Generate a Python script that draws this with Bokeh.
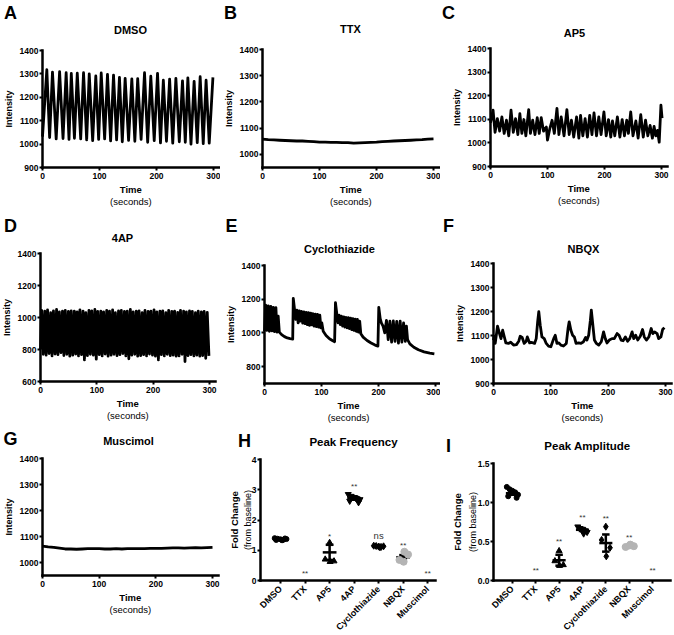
import math
from bokeh.plotting import figure
from bokeh.models import Range1d, FixedTicker, Label, PrintfTickFormatter
from bokeh.layouts import row, column
from bokeh.embed import file_html
from bokeh.resources import INLINE
from bokeh.core.properties import value

FONT = "Liberation Sans"

# ------------------------------------------------------------------ data
time_ticks = [0, 100, 200, 300]

dmso_trace = [(0, 1032), (7.6, 1318), (12.5, 1028), (17.5, 1308), (24, 1022), (30, 1310), (36, 1024),
              (41.5, 1305), (46.5, 1020), (50.5, 1302), (56, 1025), (61, 1303), (67, 1022), (72, 1305),
              (77.5, 1018), (82, 1300), (88, 1015), (93.5, 1291), (98.5, 1020), (103, 1304), (109, 1022),
              (114, 1298), (119.5, 1014), (124.6, 1295), (130, 1018), (135, 1285), (140, 1010), (145, 1281),
              (151, 1016), (156.7, 1279), (162, 1012), (167, 1280), (173, 1020), (179, 1305), (184.5, 1008),
              (190, 1290), (196, 1015), (201.8, 1302), (207, 1005), (212, 1273), (217.5, 1012), (223, 1278),
              (228.5, 1004), (234, 1281), (240, 1010), (245.6, 1270), (250.5, 1008), (255, 1283), (260.5, 1000),
              (266, 1268), (271.5, 1006), (276.6, 1288), (282, 1002), (287, 1273), (292.5, 1004), (299, 1285)]

ttx_trace = [(0, 1058), (10, 1056), (20, 1055), (30, 1054), (40, 1053), (50, 1052), (60, 1051), (70, 1051),
             (80, 1050), (90, 1049), (100, 1047), (110, 1047), (120, 1046), (130, 1046), (140, 1045),
             (150, 1045), (160, 1043), (170, 1044), (180, 1045), (190, 1046), (200, 1047), (210, 1049),
             (220, 1050), (230, 1051), (240, 1052), (250, 1053), (260, 1054), (270, 1055), (280, 1056),
             (290, 1058), (300, 1059)]

ap5_trace = [(0, 1085), (4.5, 1139), (8, 1045), (12, 1103), (16, 1050), (20, 1110), (24, 1040), (28, 1096),
             (32, 1030), (36, 1139), (40, 1045), (44, 1103), (48, 1035), (51.5, 1124), (55, 1040), (58.6, 1099),
             (62, 1030), (67, 1141), (70, 1040), (74, 1096), (78, 1035), (82, 1107), (85.5, 1040), (89, 1107),
             (93, 1050), (98, 1067), (100, 1012), (104, 1060), (108, 1096), (112, 1040), (116.6, 1146),
             (120, 1035), (124, 1110), (129, 1030), (134, 1141), (138, 1035), (142, 1096), (146, 1025),
             (151, 1110), (155, 1020), (158, 1117), (162, 1030), (166, 1103), (170, 1025), (174, 1117),
             (178, 1035), (181.6, 1127), (186, 1030), (190, 1110), (194, 1035), (199, 1131), (203, 1030),
             (207, 1099), (211, 1025), (214, 1093), (218, 1030), (222.6, 1110), (227, 1025), (231, 1099),
             (235, 1030), (239, 1096), (242, 1040), (246, 1131), (250, 1030), (255, 1093), (259, 1020),
             (263.6, 1120), (268, 1025), (272, 1096), (276, 1030), (280, 1074), (284, 1020), (287, 1070),
             (290, 1030), (293, 1053), (296, 1003), (299, 1160), (301, 1105)]

fourap_trace = [(0, 800), (2, 1045), (4.8, 770), (7.5, 1040), (10, 765), (12.5, 1048), (15.3, 775), (18, 1030),
                (20.5, 760), (23, 1042), (25.8, 772), (28.5, 1050), (31, 768), (33.5, 1035), (36.3, 780),
                (39, 1040), (41.5, 762), (44, 1045), (46.8, 770), (49.5, 1038), (52, 758), (54.5, 1042),
                (57.3, 765), (60, 1040), (62.5, 772), (65, 1035), (67.5, 760), (70, 1048), (72.8, 768),
                (75.5, 1040), (78, 735), (80.5, 1030), (83.3, 762), (86, 1045), (88.5, 770), (91, 1042),
                (93.8, 765), (96.5, 1050), (99, 740), (101.5, 1038), (104.3, 768), (107, 1040), (109.5, 760),
                (112, 1035), (114.8, 772), (117.5, 1045), (120, 758), (122.5, 1040), (125.3, 765), (128, 1048),
                (130.5, 770), (133, 1030), (135.8, 762), (138.5, 1042), (141, 768), (143.5, 1045), (146.3, 775),
                (149, 1038), (151.5, 760), (154, 1040), (156.8, 742), (159.5, 1050), (162, 765), (164.5, 1035),
                (167.3, 770), (170, 1040), (172.5, 758), (175, 1042), (177.8, 762), (180.5, 1030), (183, 768),
                (185.5, 1045), (188.3, 760), (191, 1038), (193.5, 772), (196, 1040), (198.8, 765), (201.5, 1048),
                (204, 758), (206.5, 1035), (209.3, 735), (212, 1040), (214.5, 768), (217, 1042), (219.8, 760),
                (222.5, 1030), (225, 770), (227.5, 1045), (230.3, 762), (233, 1038), (235.5, 765), (238, 1040),
                (240.8, 758), (243.5, 1032), (246, 760), (248.5, 1045), (251.3, 770), (254, 1040), (256.5, 725),
                (259, 1035), (261.8, 762), (264.5, 1042), (267, 768), (269.5, 1038), (272.3, 760), (275, 1030),
                (277.5, 765), (280, 1040), (282.8, 758), (285.5, 1035), (288, 762), (290.5, 1038), (293.3, 745),
                (296, 1032), (299, 760)]

cyclo_trace = [(0, 1010), (2, 1165), (4, 1015), (6.5, 1160), (8.5, 1010), (11, 1158), (13, 1012), (15.5, 1152),
               (17.5, 1008), (20, 1150), (22, 1005), (24, 1100), (26, 1005), (30, 990), (35, 978), (40, 970),
               (45, 966), (49.5, 964), (50.5, 1205), (53, 1130), (55, 1080), (57, 1135), (59, 1060), (61, 1130),
               (63, 1070), (65, 1128), (67, 1058), (69, 1125), (71, 1055), (73, 1122), (75, 1050), (77, 1120),
               (79, 1045), (81, 1118), (83, 1048), (85, 1115), (87, 1040), (89, 1112), (91, 1038), (93, 1110),
               (95, 1035), (97, 1105), (99, 1030), (100.5, 1060), (103, 1010), (108, 985), (114, 965), (119, 955),
               (123, 948), (124.5, 1180), (127, 1110), (129, 1060), (131, 1105), (133, 1050), (135, 1100),
               (137, 1040), (139, 1095), (141, 1035), (143, 1092), (145, 1030), (147, 1090), (149, 1025),
               (151, 1088), (153, 1020), (155, 1085), (157, 1015), (159, 1082), (161, 1010), (163, 1080),
               (165, 1005), (167, 1070), (169, 995), (173, 975), (180, 955), (187, 940), (194, 928), (199, 922),
               (200.5, 1152), (203, 1085), (205, 1060), (208, 1040), (211, 1000), (214, 1075), (217, 960),
               (220, 1070), (223, 945), (226, 1072), (229, 950), (232, 1068), (235, 940), (238, 1070), (241, 945),
               (244, 1060), (247, 950), (249, 1040), (251, 960), (255, 935), (262, 915), (270, 900), (280, 888),
               (290, 880), (298, 876)]

nbqx_trace = [(0, 1080), (1, 1097), (3, 1067), (7, 1139), (10.5, 1108), (13, 1087), (16, 1122), (18.6, 1097),
              (21.5, 1069), (26, 1067), (30, 1072), (35, 1060), (40, 1062), (44, 1076), (46.6, 1097), (50, 1092),
              (53.6, 1067), (57, 1076), (59, 1094), (63, 1069), (67, 1071), (71.6, 1067), (74.5, 1087),
              (77, 1157), (79, 1199), (81.5, 1143), (84.5, 1094), (88.5, 1087), (92, 1067), (96, 1056),
              (100, 1053), (105, 1087), (107.7, 1101), (110.7, 1067), (114, 1069), (117.6, 1060), (122, 1056),
              (127, 1067), (130, 1129), (132, 1157), (135, 1122), (138, 1101), (141, 1094), (144, 1067),
              (148.5, 1069), (152.6, 1067), (157, 1074), (160.7, 1092), (163, 1081), (166, 1101), (169, 1164),
              (170.6, 1206), (173, 1150), (176, 1081), (179.5, 1067), (183.5, 1060), (188, 1074), (192, 1115),
              (195, 1087), (198, 1069), (202, 1081), (206.7, 1087), (210.7, 1087), (215.5, 1108), (219, 1101),
              (222.5, 1081), (226, 1078), (230, 1094), (234, 1076), (237.6, 1087), (241.7, 1115), (244.6, 1087),
              (248, 1101), (251.6, 1081), (256, 1097), (260, 1125), (263, 1094), (266.7, 1081), (271, 1094),
              (275, 1129), (278, 1108), (281, 1115), (285.4, 1108), (288, 1087), (292, 1094), (295, 1125),
              (298, 1133)]

muscimol_trace = [(0, 1063), (10, 1060), (20, 1058), (30, 1055), (40, 1052), (50, 1052), (60, 1051), (70, 1052),
                  (80, 1053), (90, 1053), (100, 1053), (110, 1052), (120, 1052), (130, 1053), (140, 1052),
                  (150, 1053), (160, 1053), (170, 1053), (180, 1053), (190, 1054), (200, 1054), (210, 1054),
                  (220, 1055), (230, 1056), (240, 1056), (250, 1055), (260, 1056), (270, 1057), (280, 1056),
                  (290, 1057), (300, 1058)]

categories = ["DMSO", "TTX", "AP5", "4AP", "Cyclothiazide", "NBQX", "Muscimol"]

# Peak frequency (fold change)
freq_dmso = [1.40, 1.38, 1.36, 1.35, 1.37, 1.34, 1.39, 1.33]
freq_ap5 = [1.25, 0.70, 0.64, 0.62]
freq_4ap = [2.85, 2.79, 2.75, 2.71, 2.68, 2.63, 2.58, 2.73]
freq_cyclo = [1.15, 1.14, 1.12, 1.11, 1.13, 1.10]
freq_nbqx = [0.95, 0.86, 0.68, 0.62]
freq_mean = [1.36, 0, 0.93, 2.72, 1.13, 0.77, 0]
freq_sem = [0.015, 0, 0.25, 0.05, 0.01, 0.07, 0]
freq_marks = ["", "**", "*", "**", "ns", "**", "**"]
freq_mark_y = [0, 0.24, 1.45, 3.1, 1.5, 1.16, 0.24]

# Peak amplitude (fold change)
amp_dmso = [1.20, 1.17, 1.15, 1.13, 1.10, 1.08, 1.06, 1.12]
amp_ap5 = [0.38, 0.25, 0.20, 0.19]
amp_4ap = [0.69, 0.67, 0.66, 0.64, 0.62, 0.60]
amp_cyclo = [0.69, 0.52, 0.42, 0.31]
amp_nbqx = [0.46, 0.44, 0.43, 0.45]
amp_mean = [1.12, 0, 0.26, 0.65, 0.48, 0.44, 0]
amp_sem = [0.02, 0, 0.07, 0.015, 0.11, 0.01, 0]
amp_marks = ["", "**", "**", "**", "**", "**", "**"]
amp_mark_y = [0, 0.13, 0.50, 0.81, 0.79, 0.55, 0.13]

# ------------------------------------------------------------------ layout helpers
JIT8 = [-0.24, -0.12, 0.0, 0.12, 0.24, -0.18, 0.18, 0.06]
JIT6 = [-0.2, -0.1, 0.0, 0.1, 0.2, 0.05]
JIT4 = [0.0, -0.18, 0.18, 0.02]
JIT4G = [0.05, 0.2, -0.15, 0.02]


class Panel:
    """A figure whose frame fills the canvas; the axes sit at fixed data locations."""

    def __init__(self, X0, Y0, W, H, FL, FT, FW, FH, xlo, xhi, ylo, yhi, xticks, yticks, tick_size="8.5px"):
        self.X0, self.Y0, self.W, self.H = X0, Y0, W, H
        fl, ft = FL - X0, FT - Y0
        self.kx = FW / (xhi - xlo)
        self.ky = FH / (yhi - ylo)
        self.x0 = xlo - fl / self.kx
        self.y1 = yhi + ft / self.ky
        xr = Range1d(self.x0, xhi + (W - fl - FW) / self.kx)
        yr = Range1d(ylo - (H - ft - FH) / self.ky, self.y1)
        p = figure(width=W, height=H, x_range=xr, y_range=yr, output_backend="svg",
                   toolbar_location=None, min_border=0)
        p.min_border_left = p.min_border_right = p.min_border_top = p.min_border_bottom = 0
        p.grid.visible = False
        p.outline_line_color = None
        p.xaxis.ticker = FixedTicker(ticks=xticks)
        p.yaxis.ticker = FixedTicker(ticks=yticks)
        p.xaxis.fixed_location = ylo
        p.yaxis.fixed_location = xlo
        p.xaxis.bounds = (xlo, xhi)
        p.yaxis.bounds = (ylo, yhi)
        for ax in p.axis:
            ax.axis_line_width = 2.5
            ax.axis_line_color = "black"
            ax.axis_line_cap = "square"
            ax.major_tick_line_width = 2
            ax.major_tick_out = 3
            ax.major_tick_in = 0
            ax.minor_tick_line_color = None
            ax.major_label_text_font = FONT
            ax.major_label_text_font_style = "bold"
            ax.major_label_text_font_size = tick_size
            ax.major_label_text_color = "black"
            ax.major_label_standoff = 2
        p.yaxis.major_label_standoff = 1
        self.p = p
        self.FL, self.FT, self.FW, self.FH = FL, FT, FW, FH

    def dx(self, ax):
        return self.x0 + (ax - self.X0) / self.kx

    def dy(self, ay):
        return self.y1 - (ay - self.Y0) / self.ky

    def lab(self, text, ax, ay, size, style="bold", angle=0.0, color="black"):
        self.p.add_layout(Label(x=self.dx(ax), y=self.dy(ay), text=text, text_font=FONT,
                                text_font_size=f"{size}px", text_font_style=style,
                                text_align="center", text_baseline="middle", angle=angle,
                                text_color=color))


def trace_panel(X0, Y0, W, H, FL, FT, FH, px300, trace, yr, yticks, letter, lxy, title, txy, time_x=None):
    FW = px300 * 310 / 300
    pn = Panel(X0, Y0, W, H, FL, FT, FW, FH, 0, 310, yr[0], yr[1], time_ticks, yticks)
    ts = [a for a, _ in trace]
    vs = [b for _, b in trace]
    pn.p.line(ts, vs, line_color="black", line_width=2.8, line_join="round")
    FB = FT + FH
    pn.lab(letter, lxy[0], lxy[1], 18)
    pn.lab(title, txy[0], txy[1], 11)
    cx = time_x if time_x is not None else FL + FW / 2
    pn.lab("Time", cx, FB + 22, 9.5)
    pn.lab("(seconds)", cx, FB + 33.5, 9.5, style="normal")
    pn.lab("Intensity", FL - 34, FT + FH / 2, 9, angle=math.pi / 2)
    return pn.p


def summary_panel(X0, Y0, W, H, FL, FT, FW, FH, xr, yr, yticks, fmt, letter, lxy, title, txy,
                  groups, means, sems, marks, mark_y, ylab_x):
    pn = Panel(X0, Y0, W, H, FL, FT, FW, FH, xr[0], xr[1], yr[0], yr[1], list(range(1, 8)), yticks)
    p = pn.p
    p.xaxis.major_label_overrides = {i + 1: c for i, c in enumerate(categories)}
    p.xaxis.major_label_orientation = math.pi / 4
    p.xaxis.major_label_text_font_size = "9px"
    p.xaxis.major_label_standoff = 4
    if fmt:
        p.yaxis.formatter = PrintfTickFormatter(format=fmt)
    for xc, vals, offs, marker, size, color in groups:
        if color == "black":
            p.scatter([xc + o for o in offs[:len(vals)]], vals, marker=marker, size=size,
                      fill_color=color, line_color=color)
    for i, (m, s) in enumerate(zip(means, sems)):
        if m == 0:
            continue
        xc = i + 1
        p.segment(x0=[xc - 0.28, xc - 0.16, xc - 0.16, xc], y0=[m, m + s, m - s, m - s],
                  x1=[xc + 0.28, xc + 0.16, xc + 0.16, xc], y1=[m, m + s, m - s, m + s],
                  line_color="black", line_width=2.5)
    for xc, vals, offs, marker, size, color in groups:
        if color != "black":
            p.scatter([xc + o for o in offs[:len(vals)]], vals, marker=marker, size=size,
                      fill_color=color, line_color=color)
    sx = [i + 1 for i, mk in enumerate(marks) if mk and mk != "ns"]
    sy = [mark_y[i] for i, mk in enumerate(marks) if mk and mk != "ns"]
    st = [mk for mk in marks if mk and mk != "ns"]
    p.text(x=sx, y=sy, text=st, text_font=value(FONT), text_font_size="8px",
           text_align="center", text_baseline="middle", text_color="#333333")
    nx = [i + 1 for i, mk in enumerate(marks) if mk == "ns"]
    ny = [mark_y[i] for i, mk in enumerate(marks) if mk == "ns"]
    if nx:
        p.text(x=nx, y=ny, text=["ns"] * len(nx), text_font=value(FONT), text_font_size="9.5px",
               text_align="center", text_baseline="middle", text_color="#333333")
    pn.lab(letter, lxy[0], lxy[1], 18)
    pn.lab(title, txy[0], txy[1], 11.5)
    cy = FT + FH / 2
    pn.lab("Fold Change", ylab_x[0], cy, 9.5, angle=math.pi / 2)
    pn.lab("(from baseline)", ylab_x[1], cy, 9, style="normal", angle=math.pi / 2)
    return p


# columns: x0 / width ; rows: y0 / height  (page pixels; the page has no margin)
C1, C2, C3 = (0, 220), (220, 220), (440, 234)
R1, R2, R3 = (0, 210), (210, 213), (423, 212)

pA = trace_panel(C1[0], R1[0], C1[1], R1[1], 42, 50, 117, 171, dmso_trace, (900, 1400),
                 [900, 1000, 1100, 1200, 1300, 1400], "A", (10, 12), "DMSO", (130, 29))
pB = trace_panel(C2[0], R1[0], C2[1], R1[1], 262, 49, 118, 171, ttx_trace, (950, 1400),
                 [1000, 1100, 1200, 1300, 1400], "B", (230, 12), "TTX", (350, 28))
pC = trace_panel(C3[0], R1[0], C3[1], R1[1], 490, 48, 118, 171, ap5_trace, (900, 1400),
                 [900, 1000, 1100, 1200, 1300, 1400], "C", (448, 12), "AP5", (574, 32))

pD = trace_panel(C1[0], R2[0], C1[1], R2[1], 40, 253, 128, 169, fourap_trace, (600, 1400),
                 [600, 800, 1000, 1200, 1400], "D", (10, 225), "4AP", (122, 237))
pE = trace_panel(C2[0], R2[0], C2[1], R2[1], 264, 265, 118, 171, cyclo_trace, (700, 1400),
                 [800, 1000, 1200, 1400], "E", (231, 225), "Cyclothiazide", (339, 248), time_x=348)
pF = trace_panel(C3[0], R2[0], C3[1], R2[1], 493, 263, 120, 172, nbqx_trace, (900, 1400),
                 [900, 1000, 1100, 1200, 1300, 1400], "F", (448, 225), "NBQX", (583, 248))

pG = trace_panel(C1[0], R3[0], C1[1], R3[1], 42, 458, 117, 170, muscimol_trace, (950, 1400),
                 [1000, 1100, 1200, 1300, 1400], "G", (10, 438), "Muscimol", (128, 440))

freq_groups = [(1, freq_dmso, JIT8, "circle", 5, "black"), (3, freq_ap5, JIT4, "triangle", 6, "black"),
               (4, freq_4ap, JIT8, "inverted_triangle", 6, "black"), (5, freq_cyclo, JIT6, "diamond", 7, "black"),
               (6, freq_nbqx, JIT4G, "circle", 7, "#b4b4b4")]
pH = summary_panel(C2[0], R3[0], C2[1], R3[1], 260, 459, 175, 121, (0.18, 7.32), (0, 4), [0, 1, 2, 3, 4], None,
                   "H", (244, 440), "Peak Frequency", (353, 441), freq_groups, freq_mean, freq_sem,
                   freq_marks, freq_mark_y, (234, 247))

amp_groups = [(1, amp_dmso, JIT8, "circle", 5, "black"), (3, amp_ap5, JIT4, "triangle", 6, "black"),
              (4, amp_4ap, JIT6, "inverted_triangle", 6, "black"), (5, amp_cyclo, JIT4, "diamond", 7, "black"),
              (6, amp_nbqx, JIT4G, "circle", 7, "#b4b4b4")]
pI = summary_panel(C3[0], R3[0], C3[1], R3[1], 493, 463, 177, 117, (0.19, 7.77), (0, 1.5), [0, 0.5, 1.0, 1.5],
                   "%.1f", "I", (448, 445), "Peak Amplitude", (587, 445), amp_groups, amp_mean, amp_sem,
                   amp_marks, amp_mark_y, (457, 472))

layout = column(row(pA, pB, pC), row(pD, pE, pF), row(pG, pH, pI))

open("out.html", "w").write(file_html(layout, INLINE))
